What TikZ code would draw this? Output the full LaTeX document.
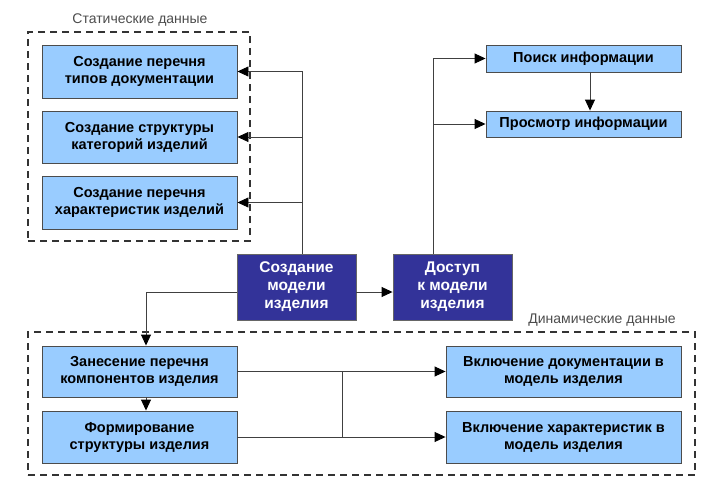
\documentclass[tikz,border=0pt]{standalone}
\usepackage{fontspec}
\setmainfont{Liberation Sans}
\usetikzlibrary{arrows.meta}

\definecolor{lightblue}{HTML}{99CCFF}
\definecolor{navy}{HTML}{333399}

\begin{document}
\begin{tikzpicture}[x=1pt, y=-1pt, >={Triangle[length=11pt,width=10pt,color=black]},
  task/.style={draw=black!70, fill=lightblue, line width=0.9pt, align=center,
    inner sep=0pt, font=\fontsize{14.5}{17}\selectfont\bfseries},
  main/.style={draw=black!60, fill=navy, text=white, line width=0.9pt, align=center,
    inner sep=0pt, minimum width=119pt, minimum height=66pt,
    font=\fontsize{15.5}{18}\selectfont\bfseries},
  group/.style={draw=black!80, line width=1.5pt, dash pattern=on 7pt off 5pt, inner sep=0pt},
  grouplabel/.style={text=black!70, font=\fontsize{14}{16}\selectfont},
  link/.style={line width=0.9pt, draw=black!75}]

\useasboundingbox (0,0) rectangle (716,493);

% Dashed groups and their captions
\node[group, minimum width=222pt, minimum height=209pt] (static) at (139,136.5) {};
\node[grouplabel] (staticlbl) at (140,20) {Статические данные};
\node[group, minimum width=667pt, minimum height=143pt] (dynamic) at (361.5,403.5) {};
\node[grouplabel] (dynamiclbl) at (602,320) {Динамические данные};

% Static data tasks
\node[task, minimum width=195pt, minimum height=53pt] (types) at (139.5,71.5) {Создание перечня\\типов документации};
\node[task, minimum width=195pt, minimum height=52pt] (cats) at (139.5,137) {Создание структуры\\категорий изделий};
\node[task, minimum width=195pt, minimum height=53pt] (chars) at (139.5,202.5) {Создание перечня\\характеристик изделий};

% Main blocks
\node[main] (model) at (296.5,287) {Создание\\модели\\изделия};
\node[main] (access) at (452.5,287) {Доступ\\к модели\\изделия};

% Information blocks
\node[task, minimum width=195pt, minimum height=27pt] (search) at (583.5,58.5) {Поиск информации};
\node[task, minimum width=195pt, minimum height=26pt] (view) at (583.5,124) {Просмотр информации};

% Dynamic data tasks
\node[task, minimum width=195pt, minimum height=51pt] (enter) at (139.5,371.5) {Занесение перечня\\компонентов изделия};
\node[task, minimum width=195pt, minimum height=52pt] (form) at (139.5,437) {Формирование\\структуры изделия};
\node[task, minimum width=235pt, minimum height=51pt] (incdoc) at (563.5,371.5) {Включение документации в\\модель изделия};
\node[task, minimum width=235pt, minimum height=52pt] (incchar) at (563.5,437) {Включение характеристик в\\модель изделия};

% Junction points
\coordinate (sbus) at (302,72);
\coordinate (mrow) at (0,292);
\coordinate (dcol) at (146,0);
\coordinate (abus) at (433,58.5);
\coordinate (vcol) at (590,0);
\coordinate (ibus) at (342,0);

% Model -> static tasks
\draw[link,->] (model.north -| sbus) |- (types.east);
\draw[link,->] (model.north -| sbus) |- (cats.east);
\draw[link,->] (model.north -| sbus) |- (chars.east);

% Model -> access, model -> dynamic tasks
\draw[link,->] (model.east |- mrow) -- (access.west |- mrow);
\draw[link,->] (model.west |- mrow) -| (enter.north -| dcol);
\draw[link,->] (enter.south -| dcol) -- (form.north -| dcol);

% Access -> information
\draw[link,->] (access.north -| abus) |- (search.west);
\draw[link,->] (access.north -| abus) |- (view.west);
\draw[link,->] (search.south -| vcol) -- (view.north -| vcol);

% Dynamic tasks -> inclusion
\draw[link,->] (enter.east) -- (incdoc.west);
\draw[link,->] (form.east) -- (incchar.west);
\draw[link] (enter.east -| ibus) -- (form.east -| ibus);

\end{tikzpicture}
\end{document}
